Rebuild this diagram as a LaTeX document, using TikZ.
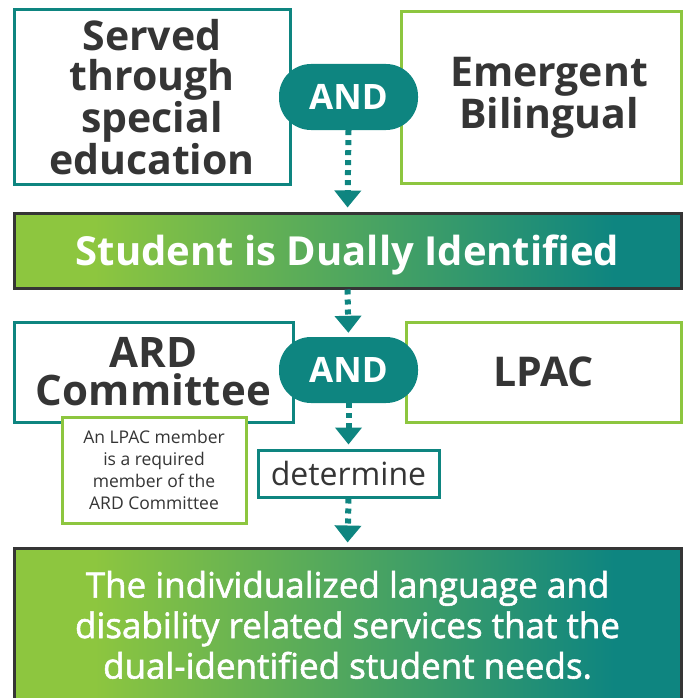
\documentclass[tikz,border=0pt]{standalone}
\usepackage{fontspec}
\setmainfont{Open Sans}
\newfontfamily\semifont{Open Sans}[FakeBold=1.6]
\usetikzlibrary{arrows.meta,positioning}
\definecolor{dlteal}{HTML}{0E8580}
\definecolor{dlgreen}{HTML}{8DC63F}
\definecolor{dldark}{HTML}{353535}
\pgfdeclarehorizontalshading{greenteal}{100bp}{color(0bp)=(dlgreen); color(31bp)=(dlgreen); color(70bp)=(dlteal); color(100bp)=(dlteal)}
\tikzset{
  basic/.style   = {draw, line width=3pt, fill=white, text=dldark, align=center, inner sep=0pt, rectangle},
  teal box/.style = {basic, draw=dlteal},
  green box/.style = {basic, draw=dlgreen},
  big/.style     = {font=\fontsize{41}{40}\selectfont\bfseries},
  pill/.style    = {fill=dlteal, text=white, rounded corners=32pt, minimum width=139pt,
                    minimum height=66pt, font=\fontsize{35}{36}\selectfont\bfseries},
  bar/.style     = {draw=dldark, line width=3pt, shading=greenteal, text=white, align=center,
                    minimum width=667pt},
  note/.style    = {green box, minimum width=184pt, minimum height=106pt,
                    font=\fontsize{17.5}{22}\selectfont},
  link/.style    = {draw=dlteal, line width=6pt, dash pattern=on 5pt off 5pt,
                    -{Triangle[length=17pt,width=26pt]}, shorten >=4pt}
}
\begin{document}
\begin{tikzpicture}[x=1pt,y=-1pt]
\useasboundingbox (0,0) rectangle (683,698);

% top pair, joined by the first pill
\node[teal box, big, minimum width=276pt, minimum height=174pt] (served) at (152,97)
  {Served\\through\\special\\education};
\node[green box, minimum width=280pt, minimum height=172pt] (bilingual) at (541,97.5) {};
\node[big, text=dldark, align=center, inner sep=0pt] (bilingual text) at (549,97.5)
  {Emergent\\Bilingual};
\node[pill] (and1) at (348.5,97) {AND};

\node[bar, minimum height=75pt, text depth=0pt, font=\fontsize{40}{40}\selectfont\bfseries] (dual)
  at (347.5,250.5) {Student is Dually Identified};

% committees
\node[teal box, minimum width=279pt, minimum height=100pt,
      font=\fontsize{42}{38}\selectfont\bfseries] (ard) at (153.5,372)
  {ARD\\\addfontfeature{LetterSpace=0.4}Committee};
\node[green box, big, minimum width=275pt, minimum height=100pt] (lpac) at (543.5,372) {LPAC};
\node[pill] (and2) at (348.5,370) {AND};
\node[note] (member) at (154,470)
  {An LPAC member\\is a required\\member of the\\ARD Committee};
\node[teal box, minimum width=181pt, minimum height=47pt, font=\fontsize{32}{32}\selectfont] (determine)
  at (348.5,473.5) {determine};

\node[bar, minimum height=154pt, font=\fontsize{35}{40.5}\semifont] (needs) at (347.5,625)
  {The individualized language and\\disability related services that the\\dual-identified student needs.};

\foreach \from/\to in {and1/dual, dual/and2, and2/determine, determine/needs}
  \draw[link] (\from.south) -- (\to.north);

\end{tikzpicture}
\end{document}
